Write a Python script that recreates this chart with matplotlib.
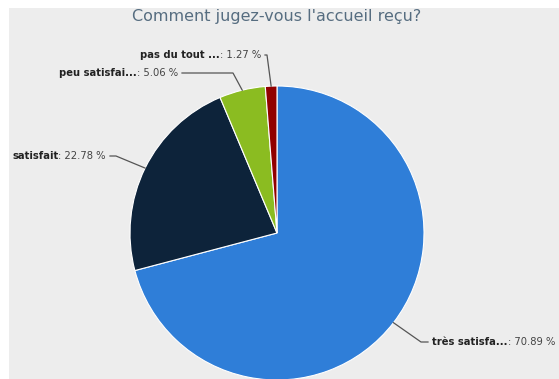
import numpy as np
import matplotlib.pyplot as plt
from matplotlib.patches import Rectangle

title = "Comment jugez-vous l'accueil reçu?"
names = ["très satisfa...", "satisfait", "peu satisfai...", "pas du tout ..."]
values = [70.89, 22.78, 5.06, 1.27]
colors = ["#2f7ed8", "#0d233a", "#8bbc21", "#910000"]

W, H = 559, 379
fig = plt.figure(figsize=(W / 100, H / 100), dpi=100)
fig.patch.set_facecolor("white")
fig.patches.append(Rectangle((9 / W, 0), 1 - 9 / W, (H - 8) / H, transform=fig.transFigure,
                             facecolor="#ededed", edgecolor="none", zorder=-5))

ax = fig.add_axes([0, 0, 1, 1], zorder=1)
ax.patch.set_alpha(0)

cx, cy, r = 277, H - 233, 147
wedges, _ = ax.pie(values, colors=colors, startangle=90, counterclock=False,
                   center=(cx, cy), radius=r, frame=True,
                   wedgeprops=dict(edgecolor="white", linewidth=0.8))
ax.set_xlim(0, W)
ax.set_ylim(0, H)
ax.set_aspect("equal")
ax.axis("off")

ax.text(277, H - 17, title, ha="center", va="center", fontsize=11.5, color="#566d80")

# label placement: x, y from top, side, x of the bend in the connector
layout = [
    (432, 342, "left", 421),
    (106, 156, "right", 116),
    (178, 73, "right", 233),
    (261, 55, "right", 267),
]

fig.canvas.draw()
renderer = fig.canvas.get_renderer()
fs = 7.2
for w, name, val, (tx, ty, side, bx) in zip(wedges, names, values, layout):
    ty = H - ty
    mid = np.deg2rad((w.theta1 + w.theta2) / 2)
    px, py = cx + r * np.cos(mid), cy + r * np.sin(mid)
    val_txt = f": {val:.2f} %"
    if side == "left":
        t1 = ax.text(tx, ty, name, ha="left", va="center", fontsize=fs,
                     fontweight="bold", color="#222222")
        bb = t1.get_window_extent(renderer)
        ax.text(tx + bb.width, ty, val_txt, ha="left", va="center", fontsize=fs, color="#444444")
        x0 = tx - 4
    else:
        t2 = ax.text(tx, ty, val_txt, ha="right", va="center", fontsize=fs, color="#444444")
        bb = t2.get_window_extent(renderer)
        ax.text(tx - bb.width, ty, name, ha="right", va="center", fontsize=fs,
                fontweight="bold", color="#222222")
        x0 = tx + 4
    ax.plot([x0, bx, px], [ty, ty, py], color="#555555", linewidth=0.9,
            solid_joinstyle="round")

fig.savefig("out.png", dpi=100)
